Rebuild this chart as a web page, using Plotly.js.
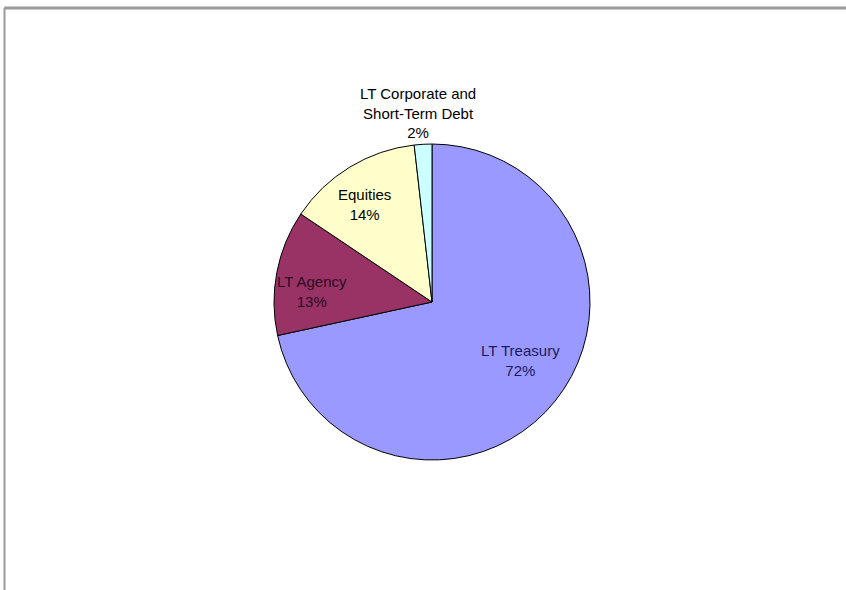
<!DOCTYPE html>
<html>
<head>
<meta charset="utf-8">
<script src="https://cdn.plot.ly/plotly-3.0.1.min.js"></script>
<style>html,body{margin:0;padding:0;background:#fff;}#chart{width:846px;height:590px;}</style>
</head>
<body>
<div id="chart"></div>
<script>
var categories = ["LT Treasury", "LT Agency", "Equities", "LT Corporate and<br>Short-Term Debt"];
var values = [71.6, 12.8, 13.8, 1.8];
var colors = ["#9999FF", "#993366", "#FFFFCC", "#CCFFFF"];
var textColors = ["#1a1a5e", "#2a0a22", "#000000", "#000000"];

// label placement style: fraction of radius from centre, and angular nudge (deg)
var labelRadius = [0.67, 0.765, 0.75, 1.2];
var labelNudge = [-5.5, -5.8, -3.4, -1.0];

var W = 846, H = 590;
var dom = {x: [0.3239, 0.6974], y: [0.2203, 0.7559]};

var total = values.reduce(function (a, b) { return a + b; }, 0);
var cx = (dom.x[0] + dom.x[1]) / 2;
var cy = (dom.y[0] + dom.y[1]) / 2;
var Rpx = Math.min((dom.x[1] - dom.x[0]) * W, (dom.y[1] - dom.y[0]) * H) / 2;

var annotations = [];
var cum = 0;
for (var i = 0; i < values.length; i++) {
  var mid = (cum + values[i] / 2) / total * 2 * Math.PI + labelNudge[i] * Math.PI / 180;
  cum += values[i];
  var rr = Rpx * labelRadius[i];
  annotations.push({
    xref: "paper", yref: "paper",
    x: cx + rr * Math.sin(mid) / W,
    y: cy + rr * Math.cos(mid) / H,
    xanchor: "center", yanchor: "middle",
    showarrow: false,
    align: "center",
    text: categories[i] + "<br>" + Math.round(values[i] / total * 100) + "%",
    font: {family: "Liberation Sans, Arial, sans-serif", size: 15, color: textColors[i]}
  });
}

var trace = {
  type: "pie",
  labels: categories,
  values: values,
  sort: false,
  direction: "clockwise",
  rotation: 0,
  marker: {colors: colors, line: {color: "#000000", width: 1}},
  textinfo: "none",
  hoverinfo: "label+percent",
  domain: dom,
  showlegend: false
};

var layout = {
  width: W, height: H,
  margin: {l: 0, r: 0, t: 0, b: 0},
  paper_bgcolor: "#ffffff",
  showlegend: false,
  annotations: annotations,
  shapes: [
    {type: "line", xref: "paper", yref: "paper", x0: 0.005, x1: 1, y0: 1 - 8/590, y1: 1 - 8/590, line: {color: "#9a9a9a", width: 3}},
    {type: "line", xref: "paper", yref: "paper", x0: 4.5/846, x1: 4.5/846, y0: 0, y1: 1 - 8/590, line: {color: "#9a9a9a", width: 2}}
  ]
};

Plotly.newPlot("chart", [trace], layout, {displayModeBar: false, staticPlot: true});
</script>
</body>
</html>
